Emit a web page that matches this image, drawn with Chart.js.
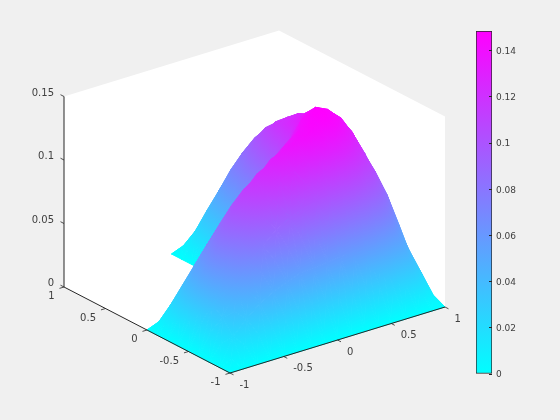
<!DOCTYPE html>
<html>
<head>
<meta charset="utf-8">
<script src="https://cdn.jsdelivr.net/npm/chart.js@4"></script>
<style>
  html, body { margin: 0; padding: 0; background: #f0f0f0; }
  #wrap { position: relative; width: 560px; height: 420px; overflow: hidden; }
  canvas { position: absolute; left: 0; top: 0; }
</style>
</head>
<body>
<div id="wrap">
  <canvas id="surface" width="560" height="420"></canvas>
  <canvas id="colorbar" width="560" height="420"></canvas>
</div>
<script>
const xVals = [-1, -0.875, -0.75, -0.625, -0.5, -0.375, -0.25, -0.125, 0, 0.125, 0.25, 0.375, 0.5, 0.625, 0.75, 0.875, 1];
const yVals = [1, 0.875, 0.75, 0.625, 0.5, 0.375, 0.25, 0.125, 0, -0.125, -0.25, -0.375, -0.5, -0.625, -0.75, -0.875, -1];
const _ = null;
const zUnit = 0.001;
// surface height at the grid nodes, top row is y = 1, null is the cut out corner of the L
const zRows = [
  [_, _, _, _, _, _, _, _, 0, 0, 0, 0, 0, 0, 0, 0, 0],
  [_, _, _, _, _, _, _, _, 0, 19, 31, 38, 40, 38, 32, 21, 0],
  [_, _, _, _, _, _, _, _, 0, 34, 52, 65, 69, 65, 53, 32, 0],
  [_, _, _, _, _, _, _, _, 0, 40, 69, 83, 88, 83, 67, 40, 0],
  [_, _, _, _, _, _, _, _, 0, 45, 76, 96, 103, 96, 77, 46, 0],
  [_, _, _, _, _, _, _, _, 0, 49, 84, 107, 112, 105, 85, 50, 0],
  [_, _, _, _, _, _, _, _, 0, 53, 90, 116, 120, 113, 90, 53, 0],
  [_, _, _, _, _, _, _, _, 0, 57, 97, 122, 127, 118, 93, 54, 0],
  [0, 0, 0, 0, 0, 0, 0, 0, 0, 69, 106, 128, 131, 122, 97, 55, 0],
  [0, 21, 32, 40, 45, 49, 53, 57, 69, 96, 124, 139, 138, 126, 100, 58, 0],
  [0, 32, 53, 67, 76, 85, 92, 99, 108, 127, 142, 148, 142, 130, 104, 60, 0],
  [0, 38, 64, 84, 98, 107, 115, 124, 133, 141, 146, 148, 141, 125, 101, 60, 0],
  [0, 40, 72, 95, 110, 120, 128, 135, 140, 143, 143, 142, 133, 115, 91, 58, 0],
  [0, 38, 65, 84, 100, 110, 118, 124, 128, 131, 131, 127, 117, 105, 82, 50, 0],
  [0, 32, 53, 68, 79, 88, 94, 98, 100, 101, 101, 99, 92, 82, 62, 35, 0],
  [0, 21, 32, 41, 47, 51, 55, 56, 57, 58, 58, 56, 53, 47, 42, 26, 0],
  [0, 0, 0, 0, 0, 0, 0, 0, 0, 0, 0, 0, 0, 0, 0, 0, 0]
];
// surface height at the middle of each grid cell
const zCenters = [
  [_, _, _, _, _, _, _, _, 7, 15, 19, 22, 22, 20, 15, 7],
  [_, _, _, _, _, _, _, _, 15, 36, 49, 55, 55, 49, 37, 15],
  [_, _, _, _, _, _, _, _, 21, 51, 69, 78, 78, 69, 50, 20],
  [_, _, _, _, _, _, _, _, 23, 60, 83, 95, 95, 83, 60, 24],
  [_, _, _, _, _, _, _, _, 26, 66, 93, 107, 106, 93, 67, 26],
  [_, _, _, _, _, _, _, _, 28, 71, 101, 116, 115, 100, 72, 28],
  [_, _, _, _, _, _, _, _, 30, 76, 108, 123, 122, 106, 75, 29],
  [_, _, _, _, _, _, _, _, 34, 84, 115, 129, 127, 110, 77, 29],
  [7, 15, 20, 23, 26, 28, 30, 34, 61, 101, 126, 136, 131, 113, 80, 30],
  [15, 37, 50, 59, 66, 72, 77, 85, 102, 124, 140, 144, 136, 117, 83, 32],
  [20, 49, 69, 83, 94, 102, 110, 118, 129, 141, 148, 147, 137, 117, 83, 32],
  [22, 56, 81, 99, 111, 120, 128, 135, 141, 145, 147, 143, 131, 110, 80, 32],
  [22, 56, 81, 99, 112, 121, 128, 134, 138, 139, 138, 132, 120, 100, 72, 29],
  [20, 49, 70, 85, 96, 105, 111, 115, 117, 118, 117, 111, 101, 85, 59, 23],
  [15, 37, 51, 61, 68, 74, 78, 80, 81, 82, 81, 77, 71, 60, 43, 17],
  [7, 15, 20, 24, 27, 29, 30, 30, 31, 31, 31, 29, 27, 24, 19, 9]
];
const xTicks = [-1, -0.5, 0, 0.5, 1];
const yTicks = [-1, -0.5, 0, 0.5, 1];
const zTicks = [0, 0.05, 0.1, 0.15];
const zMax = 0.1485;
const barTicks = [0, 0.02, 0.04, 0.06, 0.08, 0.1, 0.12, 0.14];

const LOW = "#00ffff";
const HIGH = "#ff00ff";
const INK = "#262626";
const TEXT = "#404040";

// view of the 3d box: screen position for a data point
function project(x, y, z) {
  return {
    x: 230 + 107.5 * (x + 1) - 83 * (y + 1),
    y: 373 - 33 * (x + 1) - 43 * (y + 1) - 1270 * z
  };
}

const surfaceCanvas = document.getElementById("surface");
const surfaceCtx = surfaceCanvas.getContext("2d");

function flatColor(z) {
  const t = Math.round(255 * Math.min(z / zMax, 1));
  return "rgb(" + t + "," + (255 - t) + ",255)";
}

// the cool colormap is linear in z, so a linear gradient across a triangle is exact
function triangleGradient(a, b, c) {
  const ux = b.x - a.x, uy = b.y - a.y, vx = c.x - a.x, vy = c.y - a.y;
  const dz1 = b.z - a.z, dz2 = c.z - a.z;
  const det = ux * vy - uy * vx;
  const gx = (dz1 * vy - dz2 * uy) / det;
  const gy = (dz2 * ux - dz1 * vx) / det;
  const len2 = gx * gx + gy * gy;
  if (!isFinite(len2) || len2 === 0) return flatColor(a.z);
  const x0 = a.x - (gx / len2) * a.z, y0 = a.y - (gy / len2) * a.z;
  const grad = surfaceCtx.createLinearGradient(x0, y0, x0 + (gx / len2) * zMax, y0 + (gy / len2) * zMax);
  grad.addColorStop(0, LOW);
  grad.addColorStop(1, HIGH);
  return grad;
}

function lineSet(points, color, width) {
  return { data: points, showLine: true, borderColor: color, borderWidth: width, fill: false, clip: false };
}

function node(i, r) {
  const z = zRows[r][i] * zUnit;
  const p = project(xVals[i], yVals[r], z);
  return { x: p.x, y: p.y, z: z };
}

function middle(i, r) {
  const z = zCenters[r][i] * zUnit;
  const p = project((xVals[i] + xVals[i + 1]) / 2, (yVals[r] + yVals[r + 1]) / 2, z);
  return { x: p.x, y: p.y, z: z };
}

function triangleSet(a, b, c) {
  const grad = triangleGradient(a, b, c);
  return {
    data: [a, b, c, a].map(p => ({ x: p.x, y: p.y })),
    showLine: true,
    fill: "shape",
    backgroundColor: grad,
    borderColor: grad,
    borderWidth: 1,
    borderJoinStyle: "round",
    clip: false
  };
}

const datasets = [];

// axes on top
const TICK = 0.042;
datasets.push(lineSet([project(-1, 1, 0), project(-1, 1, 0.15)], INK, 1));
datasets.push(lineSet([project(-1, 1, 0), project(-1, -1, 0)], INK, 1));
datasets.push(lineSet([project(-1, -1, 0), project(1, -1, 0)], INK, 1));
xTicks.forEach(v => datasets.push(lineSet([project(v, -1, 0), project(v, -1 - TICK, 0)], INK, 0.8)));
yTicks.forEach(v => datasets.push(lineSet([project(-1, v, 0), project(-1 - TICK, v, 0)], INK, 0.8)));
zTicks.forEach(v => datasets.push(lineSet([project(-1, 1, v), project(-1, 1 + TICK, v)], INK, 0.8)));

// first dataset is painted last, so cells go from the near corner to the far one
for (let i = 0; i < xVals.length - 1; i++) {
  for (let r = yVals.length - 2; r >= 0; r--) {
    if (zCenters[r][i] === null) continue;
    const p00 = node(i, r + 1), p10 = node(i + 1, r + 1), p01 = node(i, r), p11 = node(i + 1, r);
    const mid = middle(i, r);
    datasets.push(triangleSet(p00, p10, mid));
    datasets.push(triangleSet(p00, p01, mid));
    datasets.push(triangleSet(p10, p11, mid));
    datasets.push(triangleSet(p01, p11, mid));
  }
}

// white floor and back walls
datasets.push({
  data: [project(-1, 1, 0), project(-1, 1, 0.15), project(1, 1, 0.15), project(1, -1, 0.15), project(1, -1, 0), project(-1, -1, 0), project(-1, 1, 0)],
  showLine: true,
  fill: "shape",
  backgroundColor: "#ffffff",
  borderColor: "#ffffff",
  borderWidth: 0,
  clip: false
});

const axisLabels = {
  id: "axisLabels",
  afterDraw(chart) {
    const c = chart.ctx;
    const sx = chart.scales.x, sy = chart.scales.y;
    const put = (p, dx, dy, text, align) => {
      c.textAlign = align;
      c.fillText(text, sx.getPixelForValue(p.x) + dx, sy.getPixelForValue(p.y) + dy);
    };
    c.save();
    c.font = '10px "DejaVu Sans"';
    c.fillStyle = TEXT;
    c.textBaseline = "middle";
    zTicks.forEach(v => put(project(-1, 1, v), -10, -3.5, String(v), "right"));
    yTicks.forEach(v => put(project(-1, v, 0), -9.5, 9.5, String(v), "right"));
    xTicks.forEach(v => put(project(v, -1, 0), 9.5, 12, String(v), "left"));
    c.restore();
  }
};

new Chart(surfaceCanvas, {
  type: "scatter",
  data: { datasets: datasets },
  options: {
    responsive: false,
    animation: false,
    events: [],
    layout: { padding: 0 },
    elements: { point: { radius: 0 }, line: { tension: 0 } },
    plugins: { legend: { display: false }, tooltip: { enabled: false } },
    scales: {
      x: { type: "linear", display: false, min: 0, max: 560 },
      y: { type: "linear", display: false, min: 0, max: 420, reverse: true }
    }
  },
  plugins: [axisLabels]
});

new Chart(document.getElementById("colorbar"), {
  type: "bar",
  data: {
    labels: ["z"],
    datasets: [{
      data: [zMax],
      barPercentage: 1,
      categoryPercentage: 1,
      borderColor: INK,
      borderWidth: 1,
      borderSkipped: false,
      backgroundColor: function (context) {
        const area = context.chart.chartArea;
        if (!area) return HIGH;
        const grad = context.chart.ctx.createLinearGradient(0, area.bottom, 0, area.top);
        grad.addColorStop(0, LOW);
        grad.addColorStop(1, HIGH);
        return grad;
      }
    }]
  },
  options: {
    responsive: false,
    animation: false,
    events: [],
    layout: { padding: { left: 476, top: 31, bottom: 46, right: 0 } },
    plugins: { legend: { display: false }, tooltip: { enabled: false } },
    scales: {
      x: { display: false },
      y: {
        position: "right",
        min: 0,
        max: zMax,
        afterFit: function (scale) { scale.width = 68; },
        afterBuildTicks: function (scale) { scale.ticks = barTicks.map(v => ({ value: v })); },
        border: { display: false },
        grid: { drawOnChartArea: false, tickLength: -3, tickColor: INK, z: 1 },
        ticks: {
          padding: 7,
          labelOffset: 1,
          color: TEXT,
          font: { family: "DejaVu Sans", size: 9 },
          callback: function (value) { return String(value); }
        }
      }
    }
  }
});
</script>
</body>
</html>
